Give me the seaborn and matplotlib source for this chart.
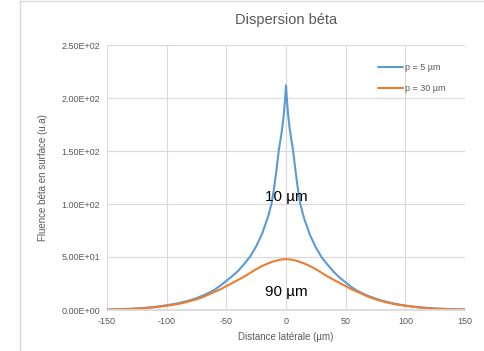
import matplotlib
matplotlib.use("Agg")
import matplotlib.pyplot as plt
import seaborn as sns
import pandas as pd
from matplotlib.patches import Rectangle

sns.set_theme(style="white")
plt.rcParams['font.family'] = ['Liberation Sans', 'DejaVu Sans']
plt.rcParams['axes.unicode_minus'] = False

# Series p = 5 µm (blue)
x_p5 = [-150, -145, -140, -135, -130, -125, -120, -115, -110, -105, -100, -95, -90, -85, -80, -75, -70, -65, -60, -55,
        -50, -45, -40, -35, -30, -25, -20, -15, -12, -10, -8, -6, -5, -4, -3, -2, -1, 0,
        1, 2, 3, 4, 5, 6, 8, 10, 12, 15, 20, 25, 30, 35, 40, 45, 50, 55, 60, 65, 70, 75, 80, 85, 90, 95, 100,
        105, 110, 115, 120, 125, 130, 135, 140, 145, 150]
y_p5 = [0.5, 0.6, 0.8, 1.0, 1.2, 1.5, 1.9, 2.4, 2.9, 3.6, 4.5, 5.4, 6.5, 7.8, 9.3, 11.2, 13.5, 16.0, 19.0, 23.0,
        27.5, 32.0, 37.0, 43.5, 50.5, 60.0, 72.0, 88.0, 101.0, 115.0, 132.0, 151.0, 158.0, 165.0, 173.0, 183.0, 195.0, 212.0,
        195.0, 182.0, 172.0, 164.0, 157.0, 150.0, 131.0, 114.0, 100.0, 87.0, 71.0, 59.0, 49.5, 42.5, 36.0, 30.5, 26.0, 21.5, 18.0, 15.2, 12.8, 10.8, 9.0, 7.5, 6.2, 5.1, 4.2,
        3.4, 2.8, 2.3, 1.9, 1.5, 1.2, 1.0, 0.8, 0.6, 0.5]

# Series p = 30 µm (orange)
x_p30 = [-150, -145, -140, -135, -130, -125, -120, -115, -110, -105, -100, -95, -90, -85, -80, -75, -70, -65, -60, -55,
         -50, -45, -40, -35, -30, -25, -20, -15, -10, -5, 0, 5, 10, 15, 20, 25, 30, 35, 40, 45, 50, 55, 60, 65, 70, 75,
         80, 85, 90, 95, 100, 105, 110, 115, 120, 125, 130, 135, 140, 145, 150]
y_p30 = [0.4, 0.5, 0.6, 0.8, 1.0, 1.2, 1.6, 2.0, 2.6, 3.2, 4.0, 4.8, 5.8, 7.0, 8.5, 10.0, 12.0, 14.5, 17.0, 19.5,
         22.5, 25.5, 28.5, 31.5, 35.0, 38.5, 41.5, 44.0, 46.0, 47.5, 48.0, 47.5, 46.0, 44.0, 41.5, 38.5, 35.0, 31.5, 28.5, 25.5,
         22.5, 19.5, 17.0, 14.5, 12.0, 10.0, 8.5, 7.0, 5.8, 4.8, 4.0, 3.2, 2.6, 2.0, 1.6, 1.2, 1.0, 0.8, 0.6, 0.5, 0.4]

series_labels = ["p = 5 µm", "p = 30 µm"]
x_ticks = [-150, -100, -50, 0, 50, 100, 150]
y_ticks = [0, 50, 100, 150, 200, 250]
y_tick_labels = ["0.00E+00", "5.00E+01", "1.00E+02", "1.50E+02", "2.00E+02", "2.50E+02"]

df = pd.concat([
    pd.DataFrame({"x": x_p5, "y": y_p5, "serie": series_labels[0]}),
    pd.DataFrame({"x": x_p30, "y": y_p30, "serie": series_labels[1]}),
])

fig = plt.figure(figsize=(4.85, 3.51), dpi=100)
ax = fig.add_axes([107/485, 1 - 310/351, (465 - 107)/485, (310 - 45)/351])

sns.lineplot(data=df, x="x", y="y", hue="serie", sort=False, estimator=None,
             palette=["#5b9bd5", "#ed7d31"], linewidth=1.5, ax=ax)

ax.set_xlim(-150, 150)
ax.set_ylim(0, 250)
ax.set_xticks(x_ticks)
ax.set_yticks(y_ticks)
ax.set_yticklabels(y_tick_labels)
ax.grid(True, color="#d9d9d9", linewidth=0.8)
ax.set_axisbelow(True)
for s in ["top", "right", "left"]:
    ax.spines[s].set_visible(False)
ax.spines["bottom"].set_color("#d9d9d9")
ax.tick_params(axis="both", labelsize=6.5, colors="#595959", length=0, pad=5)
ax.set_xlabel("Distance latérale (µm)", fontsize=7, color="#595959", labelpad=4)
ax.set_ylabel("Fluence béta en surface (u.a)", fontsize=7, color="#595959", labelpad=10)

leg = ax.legend(loc="upper left", bbox_to_anchor=((378 - 107) / 358, (310 - 63) / 265), frameon=False,
                fontsize=6.5, handlelength=2.8, handletextpad=0.15, labelspacing=1.35,
                borderaxespad=0, borderpad=0)
for t in leg.get_texts():
    t.set_color("#595959")
for line in leg.get_lines():
    line.set_linewidth(1.5)

ax.text(0, 107, "10 µm", fontsize=11, color="black", ha="center", va="center")
ax.text(0, 17, "90 µm", fontsize=11, color="black", ha="center", va="center")

fig.text(286/485, 1 - 20/351, "Dispersion béta", fontsize=10.5, color="#595959", ha="center", va="center")

fig.patches.append(Rectangle((20/485, -0.1), 1.2, 1.1 - 1/351, transform=fig.transFigure,
                             fill=False, edgecolor="#d9d9d9", linewidth=1.0))

fig.savefig("out.png", dpi=100)
